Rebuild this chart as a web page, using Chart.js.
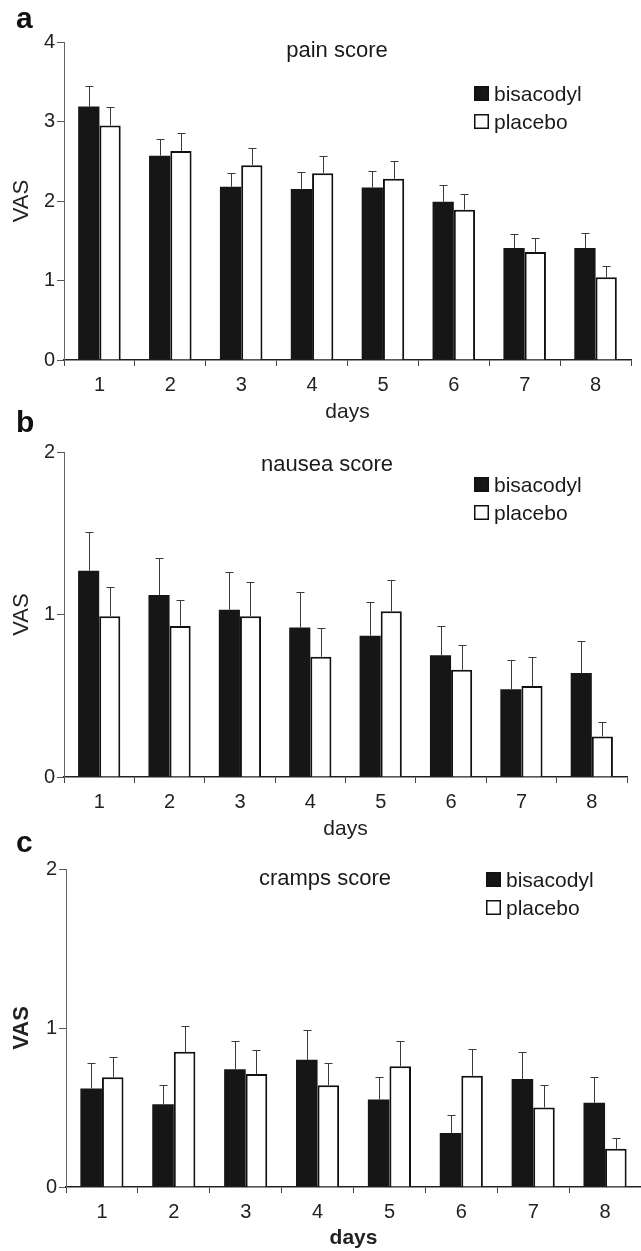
<!DOCTYPE html>
<html lang="en">
<head>
<meta charset="UTF-8">
<title>VAS scores: pain, nausea, cramps</title>
<script src="https://cdn.jsdelivr.net/npm/chart.js"></script>
<style>
  body, html { margin: 0; padding: 0; background: #fff; }
  .page { position: relative; width: 641px; height: 1251px; overflow: hidden; font-family: "Liberation Sans", Arial, sans-serif; }
  .page canvas { position: absolute; left: 0; }
  .letter { position: absolute; left: 16px; font-weight: bold; font-size: 30px; line-height: 30px; color: #111; }
</style>
</head>
<body>
<div class="page">
  <canvas id="painChart" width="641" height="425" style="top:0"></canvas>
  <canvas id="nauseaChart" width="641" height="432" style="top:410px"></canvas>
  <canvas id="crampsChart" width="641" height="424" style="top:827px"></canvas>
  <div class="letter" style="top:3px">a</div>
  <div class="letter" style="top:407px">b</div>
  <div class="letter" style="top:827px">c</div>
</div>

<script>
  // data (mean and SEM, VAS)
  const days = ['1', '2', '3', '4', '5', '6', '7', '8'];
  const seriesNames = ['bisacodyl', 'placebo'];

  const painBisacodyl    = [3.19, 2.57, 2.18, 2.15, 2.17, 1.99, 1.41, 1.41];
  const painBisacodylErr = [0.26, 0.21, 0.17, 0.22, 0.21, 0.21, 0.17, 0.19];
  const painPlacebo      = [2.95, 2.63, 2.45, 2.35, 2.28, 1.89, 1.36, 1.04];
  const painPlaceboErr   = [0.23, 0.22, 0.22, 0.21, 0.22, 0.20, 0.18, 0.14];

  const nauseaBisacodyl    = [1.27, 1.12, 1.03, 0.92, 0.87, 0.75, 0.54, 0.64];
  const nauseaBisacodylErr = [0.24, 0.23, 0.23, 0.22, 0.21, 0.18, 0.18, 0.20];
  const nauseaPlacebo      = [0.99, 0.93, 0.99, 0.74, 1.02, 0.66, 0.56, 0.25];
  const nauseaPlaceboErr   = [0.18, 0.16, 0.21, 0.18, 0.19, 0.15, 0.18, 0.09];

  const crampsBisacodyl    = [0.62, 0.52, 0.74, 0.80, 0.55, 0.34, 0.68, 0.53];
  const crampsBisacodylErr = [0.16, 0.12, 0.18, 0.19, 0.14, 0.11, 0.17, 0.16];
  const crampsPlacebo      = [0.69, 0.85, 0.71, 0.64, 0.76, 0.70, 0.50, 0.24];
  const crampsPlaceboErr   = [0.13, 0.16, 0.15, 0.14, 0.16, 0.17, 0.14, 0.07];

  const painTicks = [0, 1, 2, 3, 4];
  const scoreTicks = [0, 1, 2];

  const FONT = '"Liberation Sans", Arial, sans-serif';
  Chart.defaults.font.family = FONT;
  Chart.defaults.color = '#1a1a1a';

  // SEM whiskers on top of each bar
  const errorBars = {
    id: 'errorBars',
    afterDatasetsDraw(chart) {
      const ctx = chart.ctx;
      const y = chart.scales.y;
      ctx.save();
      ctx.strokeStyle = '#3a3a3a';
      ctx.lineWidth = 1;
      chart.data.datasets.forEach((ds, di) => {
        chart.getDatasetMeta(di).data.forEach((bar, i) => {
          const top = Math.round(y.getPixelForValue(ds.data[i] + ds.errors[i])) + 0.5;
          const x = Math.round(bar.x) + 0.5;
          ctx.beginPath();
          ctx.moveTo(x, bar.y);
          ctx.lineTo(x, top);
          ctx.moveTo(x - 4, top);
          ctx.lineTo(x + 4, top);
          ctx.stroke();
        });
      });
      ctx.restore();
    }
  };

  // in-plot title and the little legend at top right
  const panelDecor = {
    id: 'panelDecor',
    afterDraw(chart, args, opts) {
      const ctx = chart.ctx;
      ctx.save();
      ctx.font = '22px ' + FONT;
      ctx.fillStyle = '#1a1a1a';
      ctx.textAlign = 'center';
      ctx.textBaseline = 'alphabetic';
      ctx.fillText(opts.title, opts.titleX, opts.titleY);
      ctx.font = '21px ' + FONT;
      ctx.textAlign = 'left';
      chart.data.datasets.forEach((ds, i) => {
        const base = opts.legendY + i * 28;
        ctx.fillStyle = ds.backgroundColor;
        ctx.fillRect(opts.legendX, base - 15, 15, 15);
        ctx.strokeStyle = '#111';
        ctx.lineWidth = 1.5;
        ctx.strokeRect(opts.legendX + 0.75, base - 14.25, 13.5, 13.5);
        ctx.fillStyle = '#1a1a1a';
        ctx.fillText(ds.label, opts.legendX + 20, base);
      });
      ctx.restore();
    }
  };

  function makePanel(id, box, bis, bisErr, pla, plaErr, ticks, deco) {
    const titleWeight = box.bold ? 'bold' : 'normal';
    return new Chart(document.getElementById(id), {
      type: 'bar',
      data: {
        labels: days,
        datasets: [
          { label: seriesNames[0], data: bis, errors: bisErr,
            backgroundColor: '#161616', borderColor: '#161616', borderWidth: 0 },
          { label: seriesNames[1], data: pla, errors: plaErr,
            backgroundColor: '#ffffff', borderColor: '#111111', borderWidth: 2 }
        ]
      },
      options: {
        responsive: false,
        animation: false,
        events: [],
        layout: { padding: { left: 0, top: box.top, right: box.padRight, bottom: 0 } },
        datasets: { bar: { categoryPercentage: 0.6, barPercentage: 1.0 } },
        plugins: {
          legend: { display: false },
          tooltip: { enabled: false },
          panelDecor: deco
        },
        scales: {
          x: {
            z: 1,
            grid: { offset: true, drawOnChartArea: false, tickLength: 6, color: '#444', lineWidth: 1 },
            border: { color: '#222', width: 1.5 },
            ticks: { color: '#222', font: { size: 20 }, padding: 7 },
            title: { display: true, text: 'days', color: '#222',
                     font: { size: 21, weight: titleWeight }, padding: { top: 0, bottom: 0 } },
            afterFit: s => { s.height = box.xHeight; }
          },
          y: {
            min: 0,
            max: ticks[ticks.length - 1],
            afterBuildTicks: s => { s.ticks = ticks.map(v => ({ value: v })); },
            grid: { drawOnChartArea: false, tickLength: 7, color: '#555', lineWidth: 1 },
            border: { color: '#666', width: 1 },
            ticks: { color: '#222', font: { size: 20 }, padding: 2 },
            title: { display: true, text: 'VAS', color: '#222',
                     font: { size: 22, weight: titleWeight }, padding: { top: 9, bottom: 0 } },
            afterFit: s => { s.width = box.left; }
          }
        }
      },
      plugins: [errorBars, panelDecor]
    });
  }

  makePanel('painChart', { top: 42, left: 64, padRight: 10, xHeight: 65 },
    painBisacodyl, painBisacodylErr, painPlacebo, painPlaceboErr, painTicks,
    { title: 'pain score', titleX: 337, titleY: 57, legendX: 474, legendY: 101 });

  makePanel('nauseaChart', { top: 42, left: 64, padRight: 14, xHeight: 65 },
    nauseaBisacodyl, nauseaBisacodylErr, nauseaPlacebo, nauseaPlaceboErr, scoreTicks,
    { title: 'nausea score', titleX: 327, titleY: 61, legendX: 474, legendY: 82 });

  makePanel('crampsChart', { top: 42, left: 66, padRight: 0, xHeight: 64, bold: true },
    crampsBisacodyl, crampsBisacodylErr, crampsPlacebo, crampsPlaceboErr, scoreTicks,
    { title: 'cramps score', titleX: 325, titleY: 58, legendX: 486, legendY: 60 });
</script>
</body>
</html>
